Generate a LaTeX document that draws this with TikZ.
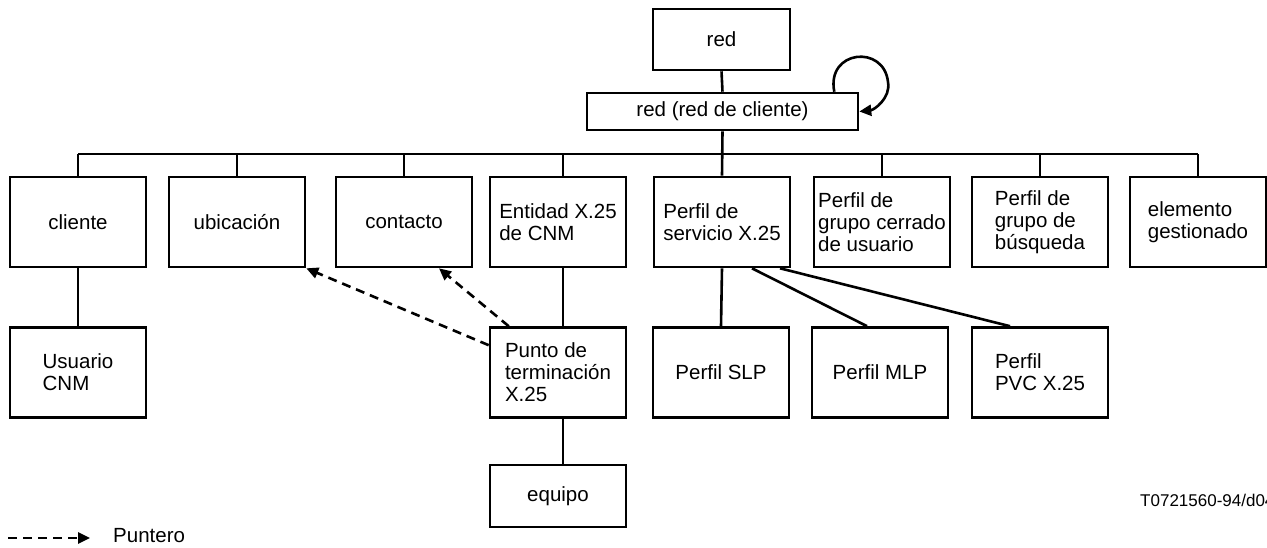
\documentclass[tikz,border=0pt]{standalone}
\usepackage{fontspec}
\setmainfont{Liberation Sans}
\usetikzlibrary{arrows.meta}
\begin{document}
\begin{tikzpicture}[x=1pt,y=-1pt,
  every node/.style={font=\fontsize{20.5}{22}\selectfont},
  box/.style={draw, line width=2.6pt, minimum width=136pt, minimum height=90pt, align=left, inner sep=2pt},
  smallbox/.style={box, minimum height=62pt},
  conn/.style={line width=2.6pt},
  ptr/.style={line width=2.6pt, dash pattern=on 9pt off 6pt, -{Triangle[length=12pt,width=11pt]}}]
\useasboundingbox (0,0) rectangle (1267,547);
% top
\node[box, minimum width=137pt, minimum height=61pt] (red) at (721.5,39.5) {red};
\node[box, minimum width=271pt, minimum height=37pt] (redc) at (722.5,111.5) {red (red de cliente)};
% row 1
\node[box] (cli) at (78,222) {cliente};
\node[box] (ubi) at (237,222) {ubicación};
\node[box] (con) at (404,222) {contacto};
\node[box] (ent) at (558,222) {Entidad X.25\\de CNM};
\node[box] (serv) at (722,222) {Perfil de\\servicio X.25};
\node[box] (gcu) at (882,222) {Perfil de\\grupo cerrado\\de usuario};
\node[box] (gbu) at (1040,222) {Perfil de\\grupo de\\búsqueda};
\node[box] (elem) at (1198,222) {elemento\\gestionado};
% row 2
\node[box] (usu) at (78,372.5) {Usuario\\CNM};
\node[box] (pto) at (558,372.5) {Punto de\\terminación\\X.25};
\node[box] (slp) at (721,372.5) {Perfil SLP};
\node[box] (mlp) at (880,372.5) {Perfil MLP};
\node[box] (pvc) at (1040,372.5) {Perfil\\PVC X.25};
\node[smallbox] (equ) at (558,496) {equipo};
% connectors
\draw[conn] (red.south) -- (redc.north);
\draw[conn] (redc.south) -- (serv.north);
\coordinate (busL) at (78,154);
\coordinate (busR) at (1198,154);
\draw[conn] (busL) -- (busR);
\foreach \n in {cli,ubi,con,gcu,gbu,elem}
  \draw[conn] (\n.north) -- (\n.north |- busL);
\draw[conn] ([xshift=5pt]ent.north) -- ([xshift=5pt]ent.north |- busL);
\draw[conn] (cli.south) -- (usu.north);
\draw[conn] ([xshift=5pt]ent.south) -- ([xshift=5pt]pto.north);
\draw[conn] ([xshift=5pt]pto.south) -- ([xshift=5pt]equ.north);
\draw[conn] (serv.south) -- (slp.north);
\draw[conn] ([xshift=30pt]serv.south) -- ([xshift=-13pt]mlp.north);
\draw[conn] ([xshift=58pt]serv.south) -- ([xshift=-30pt]pvc.north);
% self loop
\coordinate (ls) at ([xshift=-25pt]redc.north east);
\coordinate (lt) at (888,82);
\draw[conn, -{Triangle[length=12pt,width=11pt]}] (ls) .. controls (826,50) and (884,44) .. (lt) .. controls (891,98) and (874,110) .. (redc.east);
% pointers
\draw[ptr] ([yshift=-19pt]pto.north west) -- (ubi.south east);
\draw[ptr] ([xshift=20pt]pto.north west) -- ([xshift=35pt]con.south);
% legend
\coordinate (lg1) at (8,538);
\coordinate (lg2) at (90,538);
\draw[ptr] (lg1) -- (lg2);
\node[anchor=west, inner sep=0pt] (lgt) at (113,536) {Puntero};
\node[anchor=west, inner sep=0pt, font=\fontsize{17}{20}\selectfont] (lab) at (1140,500) {T0721560-94/d04};
\end{tikzpicture}
\end{document}
